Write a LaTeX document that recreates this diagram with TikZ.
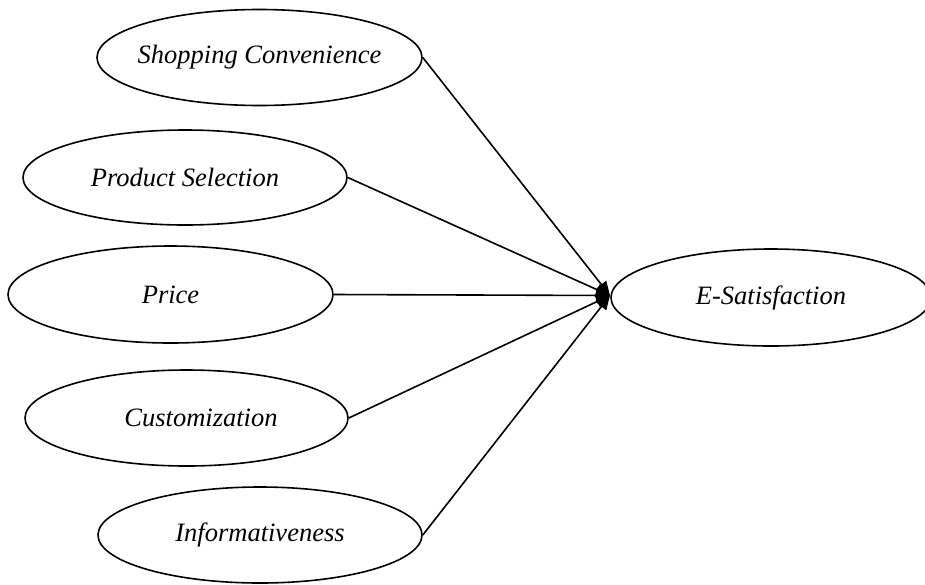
\documentclass[tikz,border=0pt]{standalone}
\usepackage{fontspec}
\setmainfont{Liberation Serif}
\usetikzlibrary{shapes.geometric,arrows.meta}
\newcommand\cnlabel[1]{\makebox[0pt][c]{#1}}
\tikzset{
  construct/.style={ellipse, draw, line width=1.6pt, inner sep=0pt,
    font=\fontsize{26.5}{31}\selectfont\itshape},
  link/.style={line width=1.6pt, -{Triangle[length=14pt,width=12pt]}}
}
\begin{document}
\begin{tikzpicture}[x=1pt,y=-1pt]
\useasboundingbox (0,0) rectangle (925,584);
\node[construct, minimum width=325pt, minimum height=96pt] (shop) at (259.5,57.5) {\cnlabel{Shopping Convenience}};
\node[construct, minimum width=324pt, minimum height=95pt] (prod) at (185,177.5) {\cnlabel{Product Selection}};
\node[construct, minimum width=325pt, minimum height=97pt] (price) at (170.5,294.5) {\cnlabel{Price}};
\node[construct, minimum width=323pt, minimum height=96pt] (cust) at (186.5,418) {\cnlabel{\hspace*{29pt}Customization}};
\node[construct, minimum width=324pt, minimum height=96pt] (info) at (260,535) {\cnlabel{Informativeness}};
\node[construct, minimum width=320pt, minimum height=97pt] (esat) at (771,297.5) {\cnlabel{E-Satisfaction}};
\coordinate (tip) at (610,295.5);
\draw[link] (shop.east) -- (tip);
\draw[link] (prod.east) -- (tip);
\draw[link] (price.east) -- (tip);
\draw[link] (cust.east) -- (tip);
\draw[link] (info.east) -- (tip);
\end{tikzpicture}
\end{document}
